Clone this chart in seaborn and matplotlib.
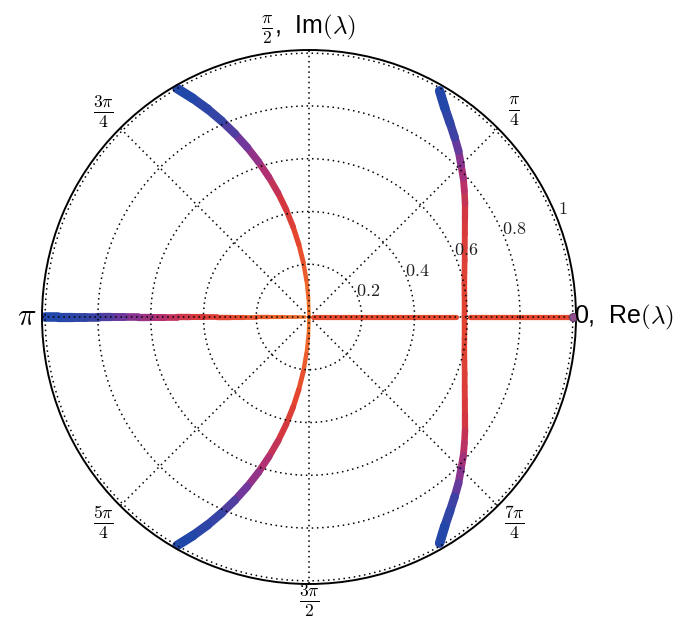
import numpy as np
import pandas as pd
import matplotlib
matplotlib.use("Agg")
import matplotlib.pyplot as plt
import seaborn as sns
from matplotlib.colors import LinearSegmentedColormap

# ---------------- data (theta in degrees, r, colour value) ----
left_up_theta = [120, 118, 116, 114, 112, 110, 108, 106, 104, 102, 100, 98, 96, 94, 92, 90]
left_up_r = [1.000, 0.939, 0.877, 0.813, 0.749, 0.684, 0.618, 0.551, 0.484, 0.416,
             0.347, 0.278, 0.209, 0.140, 0.070, 0.000]
left_up_val = [1.000, 0.939, 0.877, 0.813, 0.749, 0.684, 0.618, 0.551, 0.484, 0.416,
               0.347, 0.278, 0.209, 0.140, 0.070, 0.000]

left_lo_theta = [240, 242, 244, 246, 248, 250, 252, 254, 256, 258, 260, 262, 264, 266, 268, 270]
left_lo_r = [1.000, 0.939, 0.877, 0.813, 0.749, 0.684, 0.618, 0.551, 0.484, 0.416,
             0.347, 0.278, 0.209, 0.140, 0.070, 0.000]
left_lo_val = [1.000, 0.939, 0.877, 0.813, 0.749, 0.684, 0.618, 0.551, 0.484, 0.416,
               0.347, 0.278, 0.209, 0.140, 0.070, 0.000]

right_up_theta = [60, 57, 54, 51, 48, 45, 42, 39, 36, 32, 28, 24, 20, 16, 12, 8, 4, 0]
right_up_r = [0.990, 0.945, 0.909, 0.877, 0.847, 0.815, 0.787, 0.758, 0.731, 0.697,
              0.669, 0.646, 0.628, 0.613, 0.602, 0.595, 0.591, 0.589]
right_up_val = [1.00, 0.92, 0.85, 0.78, 0.70, 0.64, 0.58, 0.53, 0.48, 0.44,
                0.41, 0.39, 0.37, 0.36, 0.35, 0.34, 0.34, 0.33]

right_lo_theta = [300, 303, 306, 309, 312, 315, 318, 321, 324, 328, 332, 336, 340, 344, 348, 352, 356, 360]
right_lo_r = [0.990, 0.945, 0.909, 0.877, 0.847, 0.815, 0.787, 0.758, 0.731, 0.697,
              0.669, 0.646, 0.628, 0.613, 0.602, 0.595, 0.591, 0.589]
right_lo_val = [1.00, 0.92, 0.85, 0.78, 0.70, 0.64, 0.58, 0.53, 0.48, 0.44,
                0.41, 0.39, 0.37, 0.36, 0.35, 0.34, 0.34, 0.33]

neg_axis_theta = [180] * 21
neg_axis_r = [1.00, 0.95, 0.90, 0.85, 0.80, 0.75, 0.70, 0.65, 0.60, 0.55, 0.50,
              0.45, 0.40, 0.35, 0.30, 0.25, 0.20, 0.15, 0.10, 0.05, 0.015]
neg_axis_val = [1.00, 0.95, 0.90, 0.85, 0.80, 0.75, 0.70, 0.65, 0.60, 0.55, 0.50,
                0.45, 0.40, 0.35, 0.30, 0.25, 0.20, 0.15, 0.10, 0.05, 0.015]

pos_axis_a_theta = [0, 0]
pos_axis_a_r = [0.015, 0.556]
pos_axis_a_val = [0.28, 0.30]
pos_axis_b_theta = [0, 0]
pos_axis_b_r = [0.612, 0.990]
pos_axis_b_val = [0.30, 0.30]

end_theta = [0]
end_r = [1.0]

r_ticks = [0.2, 0.4, 0.6, 0.8, 1.0]
r_tick_labels = ["0.2", "0.4", "0.6", "0.8", "1"]
theta_ticks = [0, 45, 90, 135, 180, 225, 270, 315]
theta_labels = [r"0,  Re$(\lambda)$", r"$\frac{\pi}{4}$", r"$\frac{\pi}{2}$,  Im$(\lambda)$",
                r"$\frac{3\pi}{4}$", r"$\pi$", r"$\frac{5\pi}{4}$", r"$\frac{3\pi}{2}$",
                r"$\frac{7\pi}{4}$"]

# ---------------- style ---------------------------------------------------------
sns.set_theme(style="white")
plt.rcParams["font.family"] = ["Liberation Sans", "DejaVu Sans"]
plt.rcParams["mathtext.fontset"] = "cm"
plt.rcParams["lines.solid_capstyle"] = "round"

cmap = LinearSegmentedColormap.from_list(
    "eig",
    [(0.00, "#f47a2a"), (0.30, "#e5482f"), (0.45, "#d5373f"), (0.58, "#b3306f"),
     (0.70, "#7b3599"), (0.82, "#3b43a4"), (1.00, "#1c48aa")])

curves = [
    (left_up_theta, left_up_r, left_up_val),
    (left_lo_theta, left_lo_r, left_lo_val),
    (right_up_theta, right_up_r, right_up_val),
    (right_lo_theta, right_lo_r, right_lo_val),
    (neg_axis_theta, neg_axis_r, neg_axis_val),
    (pos_axis_a_theta, pos_axis_a_r, pos_axis_a_val),
    (pos_axis_b_theta, pos_axis_b_r, pos_axis_b_val),
]
rows = []
seg = 0
for th, rr, vv in curves:
    for i in range(len(th) - 1):
        v = 0.5 * (vv[i] + vv[i + 1])
        rows.append((np.deg2rad(th[i]), rr[i], seg, v))
        rows.append((np.deg2rad(th[i + 1]), rr[i + 1], seg, v))
        seg += 1
df = pd.DataFrame(rows, columns=["theta", "r", "seg", "val"])

fig = plt.figure(figsize=(6.76, 6.22), dpi=100)
ax = fig.add_axes([0.0621, 0.0611, 0.790, 0.8585], projection="polar")

sns.lineplot(data=df, x="theta", y="r", hue="val", size="val", units="seg",
             estimator=None, sort=False, palette=cmap, hue_norm=(0, 1),
             sizes=(2.4, 7.0), size_norm=(0, 1), legend=False, ax=ax,
             solid_capstyle="round", zorder=2)

sns.scatterplot(x=np.deg2rad(end_theta), y=end_r, color="#8e4f8c", s=34,
                edgecolor="#6a3f6a", linewidth=0.8, ax=ax, zorder=3, clip_on=False)

ax.set_xlabel("")
ax.set_ylabel("")
ax.set_ylim(0, 1.012)
ax.set_yticks(r_ticks)
ax.set_yticklabels([])
ax.set_xticks(np.deg2rad(theta_ticks))
ax.set_xticklabels([])
ax.tick_params(length=0)
ax.set_axisbelow(False)
ax.grid(True, color="black", linestyle=(0, (1, 2.4)), linewidth=1.1)
ax.spines["polar"].set_color("black")
ax.spines["polar"].set_linewidth(1.4)
ax.set_facecolor("white")

# radial labels
for rt, lab in zip(r_ticks, r_tick_labels):
    ax.text(np.deg2rad(23), rt + 0.045, "$" + lab + "$", fontsize=13,
            ha="center", va="center", color="#222222")

# angular labels
lab_pos = {
    0: (1.005, "left", "center", 18),
    45: (1.10, "center", "center", 18),
    90: (1.09, "center", "center", 18),
    135: (1.10, "center", "center", 18),
    180: (1.035, "right", "center", 22),
    225: (1.10, "center", "center", 18),
    270: (1.075, "center", "center", 18),
    315: (1.10, "center", "center", 18),
}
for t, lab in zip(theta_ticks, theta_labels):
    rr, ha, va, fs = lab_pos[t]
    ax.text(np.deg2rad(t), rr, lab, ha=ha, va=va, fontsize=fs, clip_on=False,
            color="black")

fig.savefig("out.png", dpi=100, facecolor="white")
